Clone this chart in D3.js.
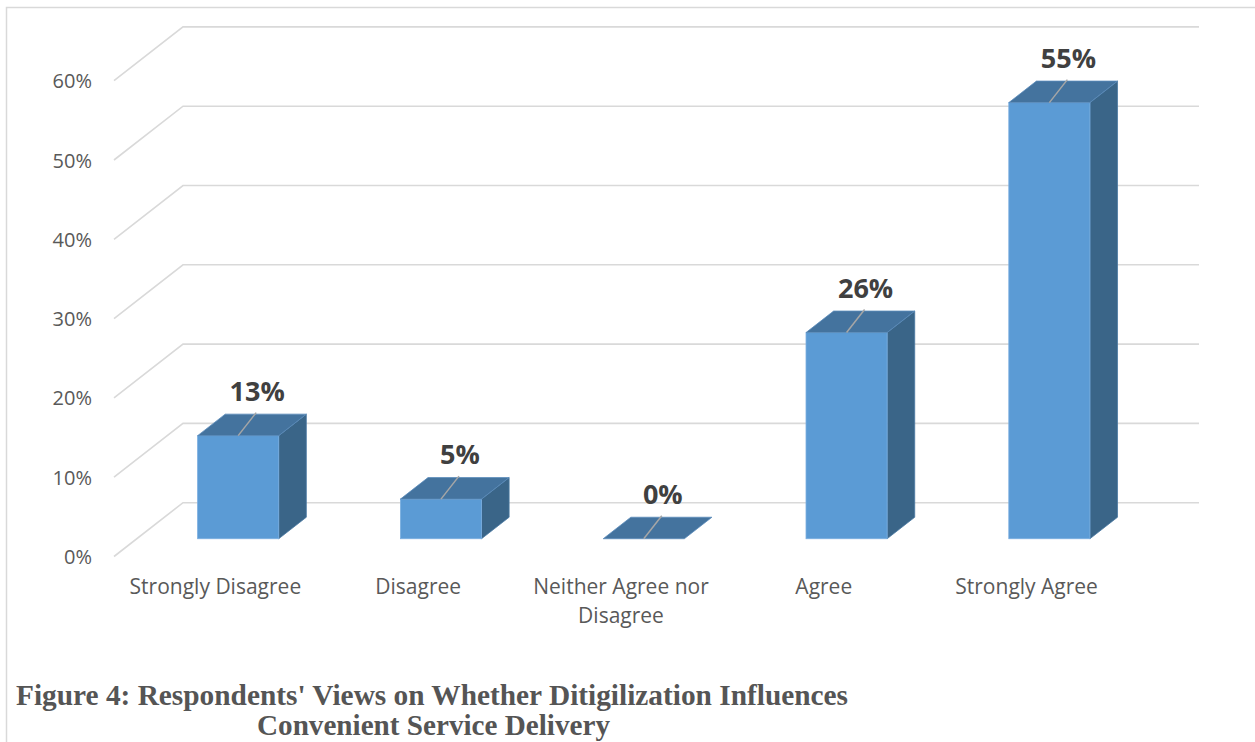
<!DOCTYPE html>
<html>
<head>
<meta charset="utf-8">
<script src="https://cdn.jsdelivr.net/npm/d3@7/dist/d3.min.js"></script>
<style>
  html, body { margin: 0; padding: 0; background: #ffffff; }
  svg { display: block; }
</style>
</head>
<body>
<svg id="chart" width="1255" height="742"></svg>
<script>
// Survey responses (share of respondents)
const categories = ["Strongly Disagree", "Disagree", "Neither Agree nor Disagree", "Agree", "Strongly Agree"];
const values = [0.13, 0.05, 0.00, 0.26, 0.55];
const tickValues = [0, 0.1, 0.2, 0.3, 0.4, 0.5, 0.6];
const captionLines = [
  "Figure 4: Respondents' Views on Whether Ditigilization Influences",
  "Convenient Service Delivery"
];

const svg = d3.select("#chart");

// Outer frame of the chart object
svg.append("rect")
  .attr("x", 6.5).attr("y", 7.5)
  .attr("width", 1300).attr("height", 800)
  .attr("fill", "none").attr("stroke", "#d9d9d9").attr("stroke-width", 1.5);

// Front plane geometry and the oblique depth of the 3D floor/walls
const x0 = 114, x1 = 1128;
const depth = { dx: 69, dy: -53.8 };
const barFront = 0.33, barBack = 0.73;

const x = d3.scaleBand().domain(categories).range([x0, x1]).paddingInner(0.6).paddingOuter(0.3);
const y = d3.scaleLinear().domain([0, 0.6]).range([556.5, 80.7]);

// Back wall gridlines plus the diagonal on the side wall
const grid = svg.append("g").attr("fill", "none").attr("stroke", "#d9d9d9").attr("stroke-width", 1.6);
tickValues.forEach(t => {
  const yf = y(t);
  grid.append("path").attr("d",
    `M${x0},${yf} L${x0 + depth.dx},${yf + depth.dy} L${1130 + depth.dx},${yf + depth.dy}`);
});

// Value axis labels
const yAxis = d3.axisLeft(y).tickValues(tickValues).tickFormat(d3.format(".0%")).tickSize(0).tickPadding(0);
const yAxisG = svg.append("g").attr("transform", `translate(92,0)`).call(yAxis);
yAxisG.select(".domain").remove();
yAxisG.selectAll("text")
  .attr("font-family", "'Open Sans', sans-serif").attr("font-size", 20)
  .attr("fill", "#595959").attr("dy", "0.35em");

// Category axis labels, wrapped when wider than a column slot
const catG = svg.append("g")
  .attr("font-family", "'Open Sans', sans-serif").attr("font-size", 21)
  .attr("fill", "#595959").attr("text-anchor", "middle");
categories.forEach(c => {
  const cx = x(c) + x.bandwidth() / 2;
  const t = catG.append("text").attr("x", cx).attr("y", 594);
  const words = c.split(" ");
  let line = [], tspan = t.append("tspan").attr("x", cx).attr("dy", 0);
  words.forEach(w => {
    line.push(w);
    tspan.text(line.join(" "));
    if (tspan.node().getComputedTextLength() > x.step() * 0.95 && line.length > 1) {
      line.pop();
      tspan.text(line.join(" "));
      line = [w];
      tspan = t.append("tspan").attr("x", cx).attr("dy", 29).text(w);
    }
  });
});

// 3D columns
const colFront = "#5b9bd5", colTop = "#44739e", colSide = "#3a6588";
const bars = svg.append("g");
categories.forEach((c, i) => {
  const v = values[i];
  const ox = depth.dx * barFront, oy = depth.dy * barFront;
  const bx = depth.dx * (barBack - barFront), by = depth.dy * (barBack - barFront);
  const left = x(c) + ox, right = left + x.bandwidth();
  const bottom = y(0) + oy, top = y(v) + oy;
  const g = bars.append("g");
  if (bottom - top > 0.5) {
    // side face
    g.append("path")
      .attr("d", `M${right},${top} L${right + bx},${top + by} L${right + bx},${bottom + by} L${right},${bottom} Z`)
      .attr("fill", colSide).attr("stroke", "#4a7aa3").attr("stroke-width", 0.8);
    // front face
    g.append("rect")
      .attr("x", left).attr("y", top).attr("width", right - left).attr("height", bottom - top)
      .attr("fill", colFront).attr("stroke", "#7aaee0").attr("stroke-width", 0.8);
  }
  // top face
  g.append("path")
    .attr("d", `M${left},${top} L${left + bx},${top + by} L${right + bx},${top + by} L${right},${top} Z`)
    .attr("fill", colTop).attr("stroke", "#5b8cbb").attr("stroke-width", 0.8);

  // leader line and value label
  const cx = (left + right) / 2;
  g.append("line")
    .attr("x1", cx).attr("y1", top).attr("x2", cx + 18).attr("y2", top - 23)
    .attr("stroke", "#a6a6a6").attr("stroke-width", 1.5);
  g.append("text")
    .attr("x", cx + 19).attr("y", top - 35)
    .attr("text-anchor", "middle")
    .attr("font-family", "'Open Sans', sans-serif").attr("font-weight", "bold").attr("font-size", 27)
    .attr("fill", "#404040")
    .text(d3.format(".0%")(v));
});

// Figure caption
const cap = svg.append("g")
  .attr("font-family", "'Liberation Serif', 'Times New Roman', serif")
  .attr("font-weight", "bold").attr("font-size", 29).attr("fill", "#555555");
cap.append("text").attr("x", 16).attr("y", 705)
  .attr("textLength", 832).attr("lengthAdjust", "spacingAndGlyphs").text(captionLines[0]);
cap.append("text").attr("x", 257).attr("y", 735)
  .attr("textLength", 353).attr("lengthAdjust", "spacingAndGlyphs").text(captionLines[1]);
</script>
</body>
</html>
